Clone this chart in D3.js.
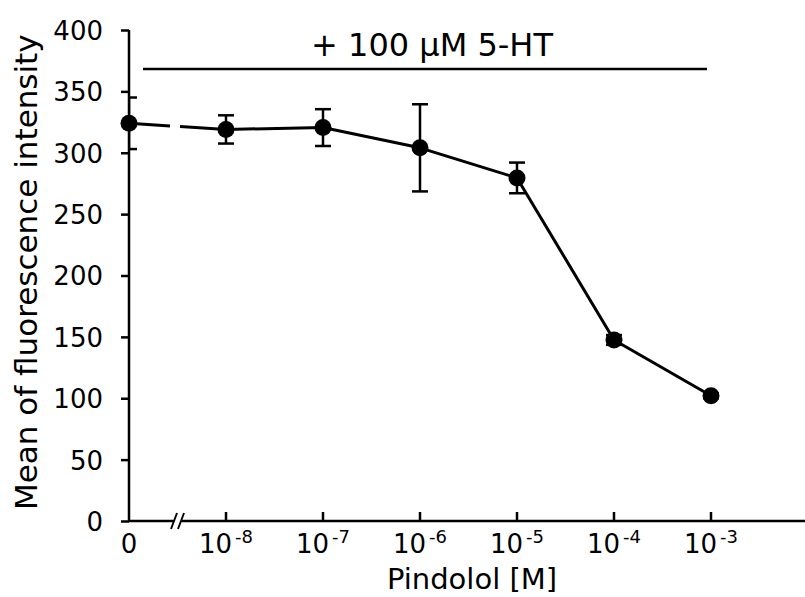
<!DOCTYPE html>
<html><head><meta charset="utf-8">
<script src="https://cdn.jsdelivr.net/npm/d3@7"></script>
<style>body{margin:0;background:#fff}svg{display:block}text{font-family:"DejaVu Sans",Verdana,sans-serif;fill:#000}</style>
</head><body><svg id="c" width="805" height="597"></svg>
<script>
const categories = ["0","10^-8","10^-7","10^-6","10^-5","10^-4","10^-3"];
const tickBase = ["0","10","10","10","10","10","10"];
const tickExp = ["","-8","-7","-6","-5","-4","-3"];
const means = [324, 319, 320.5, 304, 279.5, 147.5, 102];
const errors = [21, 11.5, 15, 35.5, 12.5, 4, 2];
const yTicks = [0,50,100,150,200,250,300,350,400];
const yTitle = "Mean of fluorescence intensity";
const xTitle = "Pindolol [M]";
const treatment = "+ 100 µM 5-HT";

const svg = d3.select("#c");
const x = d3.scaleLinear().domain([0,7]).range([129,808]);
const y = d3.scaleLinear().domain([0,400]).range([521,30]);
const data = means.map((m,i)=>({i, m, e: errors[i]}));

svg.append("clipPath").attr("id","clip").append("rect")
  .attr("x", x(0)).attr("y", 0).attr("width", 805 - x(0)).attr("height", 597);

// y axis
const yAxis = svg.append("g").attr("transform",`translate(${x(0)},0)`)
  .call(d3.axisLeft(y).tickValues(yTicks).tickSize(8).tickPadding(18).tickFormat(d3.format("d")));
yAxis.attr("font-size",null).attr("font-family",null);
yAxis.select(".domain").attr("d", `M0,${y(400)}V${y(0)}`).attr("stroke-width",2.5);
yAxis.selectAll(".tick line").attr("stroke-width",2.5);
yAxis.selectAll(".tick text").style("font-size","26px").attr("dy","0.36em");

// x axis with break
const breakX = 178;
const xAxis = svg.append("g").attr("transform",`translate(0,${y(0)})`);
xAxis.append("path").attr("fill","none").attr("stroke","#000").attr("stroke-width",2.5)
  .attr("d", `M${x(0)},0H${breakX-4}M${breakX+3},0H805`);
[-4,3].forEach(dx=>{
  xAxis.append("line").attr("x1",breakX+dx-3).attr("y1",8).attr("x2",breakX+dx+3).attr("y2",-8)
    .attr("stroke","#000").attr("stroke-width",2);
});
const xt = xAxis.selectAll("g.xt").data(categories).enter().append("g").attr("class","xt")
  .attr("transform",(d,i)=>`translate(${x(i)},0)`);
xt.filter((d,i)=>i>0).append("line").attr("y1",0).attr("y2",-9).attr("stroke","#000").attr("stroke-width",2.5);
const xtText = xt.append("text").attr("y",32).attr("text-anchor","middle").style("font-size","26px");
xtText.append("tspan").text((d,i)=>tickBase[i]);
xtText.append("tspan").style("font-size","18px").attr("dx",(d,i)=>i>0?3:0).attr("dy",-10).text((d,i)=>tickExp[i]);

// error bars
const eb = svg.append("g").attr("clip-path","url(#clip)").attr("stroke","#000").attr("stroke-width",2.5);
data.forEach(d=>{
  eb.append("line").attr("x1",x(d.i)).attr("x2",x(d.i)).attr("y1",y(d.m+d.e)).attr("y2",y(d.m-d.e));
  [d.m+d.e, d.m-d.e].forEach(v=>{
    eb.append("line").attr("x1",x(d.i)-8).attr("x2",x(d.i)+8).attr("y1",y(v)).attr("y2",y(v));
  });
});

// line (broken at axis break)
const line = d3.line().x(d=>x(d.i)).y(d=>y(d.m));
const p0 = data[0], p1 = data[1];
const interp = (px)=> p0.m + (p1.m-p0.m)*(px - x(0))/(x(1)-x(0));
const gapL = 170, gapR = 180;
svg.append("path").attr("fill","none").attr("stroke","#000").attr("stroke-width",3)
  .attr("d", `M${x(0)},${y(p0.m)}L${gapL},${y(interp(gapL))}`);
svg.append("path").attr("fill","none").attr("stroke","#000").attr("stroke-width",3)
  .attr("stroke-linejoin","round")
  .attr("d", `M${gapR},${y(interp(gapR))}` + line(data.slice(1)).replace(/^M/,"L"));

// markers
svg.append("g").selectAll("circle").data(data).enter().append("circle")
  .attr("cx",d=>x(d.i)).attr("cy",d=>y(d.m)).attr("r",8.5).attr("fill","#000");

// treatment bar
svg.append("line").attr("x1",143).attr("x2",x(6)-4).attr("y1",69).attr("y2",69)
  .attr("stroke","#000").attr("stroke-width",2.5);
svg.append("text").attr("x",432).attr("y",56).attr("text-anchor","middle").style("font-size","32px").text(treatment);

// titles
svg.append("text").attr("transform","translate(37,510) rotate(-90)").style("font-size","31px").text(yTitle);
svg.append("text").attr("x",472).attr("y",589).attr("text-anchor","middle").style("font-size","29px").text(xTitle);
</script></body></html>
